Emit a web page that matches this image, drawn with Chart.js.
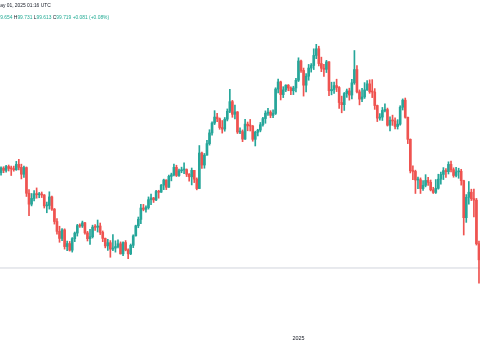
<!DOCTYPE html>
<html>
<head>
<meta charset="utf-8">
<script src="https://cdn.jsdelivr.net/npm/chart.js@4/dist/chart.umd.min.js"></script>
<style>
  html, body { margin: 0; padding: 0; background: #ffffff; width: 480px; height: 360px; overflow: hidden; }
  #wrap { position: relative; width: 480px; height: 360px; overflow: hidden; }
  canvas { position: absolute; left: 0; top: 0; }
  .hdr { position: absolute; white-space: nowrap; font-family: 'Liberation Sans', Arial, sans-serif; font-size: 4.9px; line-height: 6px; }
  #h1 { left: -3.9px; top: 3px; color: #131722; }
  #h2 { left: -6.3px; top: 14.5px; color: #131722; }
  #h2 .v { color: #22ab94; }
</style>
</head>
<body>
<div id="wrap">
  <canvas id="c" width="480" height="360"></canvas>
  <div class="hdr" id="h1"></div>
  <div class="hdr" id="h2"></div>
</div>
<script>
// ---- data (U.S. Dollar Index, daily) ----
const dates = [
'2024-07-18','2024-07-19','2024-07-22','2024-07-23','2024-07-24','2024-07-25','2024-07-26','2024-07-29','2024-07-30','2024-07-31',
'2024-08-01','2024-08-02','2024-08-05','2024-08-06','2024-08-07','2024-08-08','2024-08-09','2024-08-12','2024-08-13','2024-08-14',
'2024-08-15','2024-08-16','2024-08-19','2024-08-20','2024-08-21','2024-08-22','2024-08-23','2024-08-26','2024-08-27','2024-08-28',
'2024-08-29','2024-08-30','2024-09-02','2024-09-03','2024-09-04','2024-09-05','2024-09-06','2024-09-09','2024-09-10','2024-09-11',
'2024-09-12','2024-09-13','2024-09-16','2024-09-17','2024-09-18','2024-09-19','2024-09-20','2024-09-23','2024-09-24','2024-09-25',
'2024-09-26','2024-09-27','2024-09-30','2024-10-01','2024-10-02','2024-10-03','2024-10-04','2024-10-07','2024-10-08','2024-10-09',
'2024-10-10','2024-10-11','2024-10-14','2024-10-15','2024-10-16','2024-10-17','2024-10-18','2024-10-21','2024-10-22','2024-10-23',
'2024-10-24','2024-10-25','2024-10-28','2024-10-29','2024-10-30','2024-10-31','2024-11-01','2024-11-04','2024-11-05','2024-11-06',
'2024-11-07','2024-11-08','2024-11-11','2024-11-12','2024-11-13','2024-11-14','2024-11-15','2024-11-18','2024-11-19','2024-11-20',
'2024-11-21','2024-11-22','2024-11-25','2024-11-26','2024-11-27','2024-11-28','2024-11-29','2024-12-02','2024-12-03','2024-12-04',
'2024-12-05','2024-12-06','2024-12-09','2024-12-10','2024-12-11','2024-12-12','2024-12-13','2024-12-16','2024-12-17','2024-12-18',
'2024-12-19','2024-12-20','2024-12-23','2024-12-24','2024-12-26','2024-12-27','2024-12-30','2024-12-31','2025-01-02','2025-01-03',
'2025-01-06','2025-01-07','2025-01-08','2025-01-09','2025-01-10','2025-01-13','2025-01-14','2025-01-15','2025-01-16','2025-01-17',
'2025-01-20','2025-01-21','2025-01-22','2025-01-23','2025-01-24','2025-01-27','2025-01-28','2025-01-29','2025-01-30','2025-01-31',
'2025-02-03','2025-02-04','2025-02-05','2025-02-06','2025-02-07','2025-02-10','2025-02-11','2025-02-12','2025-02-13','2025-02-14',
'2025-02-17','2025-02-18','2025-02-19','2025-02-20','2025-02-21','2025-02-24','2025-02-25','2025-02-26','2025-02-27','2025-02-28',
'2025-03-03','2025-03-04','2025-03-05','2025-03-06','2025-03-07','2025-03-10','2025-03-11','2025-03-12','2025-03-13','2025-03-14',
'2025-03-17','2025-03-18','2025-03-19','2025-03-20','2025-03-21','2025-03-24','2025-03-25','2025-03-26','2025-03-27','2025-03-28',
'2025-03-31','2025-04-01','2025-04-02','2025-04-03','2025-04-04','2025-04-07','2025-04-08','2025-04-09','2025-04-10','2025-04-11'
];

const openValues = [
103.74,104.17,104.38,104.28,104.46,104.37,104.35,104.31,104.56,104.42,
104.10,104.41,103.21,102.70,102.97,103.19,103.14,103.14,103.13,102.62,
102.64,103.04,102.47,101.89,101.43,101.10,101.50,100.72,100.86,100.55,
101.09,101.35,101.70,101.68,101.83,101.36,101.09,101.18,101.63,101.62,
101.68,101.38,101.10,100.75,100.90,100.60,100.65,100.72,100.85,100.38,
100.91,100.56,100.38,100.78,101.22,101.69,101.99,102.52,102.46,102.54,
102.91,102.99,102.90,103.29,103.26,103.59,103.83,103.49,104.00,104.07,
104.42,104.04,104.26,104.30,104.32,104.10,103.98,104.28,103.87,103.43,
105.09,104.53,104.99,105.53,106.03,106.49,106.77,106.69,106.28,106.21,
106.67,107.04,107.49,106.90,107.01,106.07,106.09,105.74,106.44,106.36,
106.35,105.73,106.06,106.16,106.41,106.70,106.95,107.00,106.85,106.94,
108.08,108.41,107.82,108.04,108.26,108.13,108.00,108.13,108.49,109.39,
108.95,108.26,108.68,109.06,109.18,109.65,109.96,109.27,109.05,109.00,
109.35,108.00,108.06,108.24,108.15,107.45,107.35,107.87,107.99,107.80,
108.37,108.99,107.95,107.61,107.71,108.04,108.32,107.95,107.94,107.31,
106.72,106.77,107.08,107.12,106.39,106.62,106.59,106.33,106.44,107.23,
107.56,106.76,105.73,104.26,104.23,103.83,103.84,103.43,103.58,103.81,
103.72,103.37,103.25,103.44,103.87,104.09,104.27,104.22,104.56,104.31,
104.04,104.21,104.24,103.80,102.07,103.02,103.26,102.96,102.89,100.85
];

const highValues = [
104.22,104.44,104.45,104.52,104.53,104.48,104.48,104.70,104.80,104.57,
104.48,104.44,103.38,103.20,103.33,103.46,103.25,103.27,103.15,102.80,
103.28,103.08,102.50,102.03,101.67,101.56,101.55,100.98,100.96,101.14,
101.40,101.76,101.78,101.91,101.85,101.43,101.52,101.72,101.75,101.96,
101.82,101.45,101.12,101.06,101.00,101.28,100.99,101.03,100.94,100.94,
101.00,100.61,100.84,101.27,101.72,102.10,102.69,102.69,102.62,103.04,
103.17,103.02,103.35,103.35,103.62,103.87,103.84,104.06,104.15,104.57,
104.52,104.34,104.43,104.63,104.35,104.13,104.39,104.28,103.93,105.44,
105.14,105.07,105.68,106.18,106.55,107.07,106.95,106.73,106.61,106.75,
107.15,108.07,107.55,107.33,107.03,106.27,106.17,106.67,106.54,106.66,
106.38,106.11,106.20,106.52,106.76,107.06,107.18,107.07,107.11,108.14,
108.54,108.45,108.19,108.28,108.29,108.18,108.21,108.58,109.54,109.43,
109.06,108.80,109.23,109.27,109.96,110.17,110.08,109.57,109.23,109.42,
109.36,108.40,108.41,108.54,108.20,107.75,107.92,108.08,108.12,108.53,
109.88,109.18,108.04,108.11,108.38,108.48,108.51,108.52,108.10,107.33,
106.93,107.22,107.39,107.19,106.78,106.86,106.74,106.65,107.30,107.62,
107.66,106.77,105.75,104.49,104.29,103.97,103.93,103.80,104.08,103.96,
103.83,103.49,103.85,104.10,104.20,104.41,104.36,104.68,104.71,104.40,
104.42,104.38,104.33,103.82,103.15,103.76,103.40,103.41,102.97,100.98
];

const lowValues = [
103.65,104.05,104.17,104.20,104.25,104.04,104.24,104.28,104.30,103.88,
103.95,103.06,102.16,102.62,102.85,102.98,103.00,103.01,102.52,102.30,
102.47,102.41,101.77,101.30,100.92,101.00,100.60,100.53,100.51,100.46,
100.95,101.21,101.62,101.61,101.30,100.98,100.82,101.12,101.48,101.40,
101.28,100.95,100.66,100.54,100.22,100.53,100.46,100.66,100.37,100.30,
100.52,100.16,100.34,100.67,101.21,101.60,101.79,102.39,102.33,102.47,
102.68,102.78,102.87,102.98,103.25,103.38,103.38,103.48,103.79,104.02,
103.99,104.00,104.17,104.12,103.99,103.78,103.60,103.71,103.37,103.43,
104.37,104.38,104.99,105.46,105.93,106.42,106.56,106.20,106.02,106.11,
106.59,106.98,106.76,106.68,106.00,105.99,105.62,105.73,106.13,106.12,
105.64,105.42,105.89,106.08,106.35,106.48,106.85,106.74,106.74,106.89,
107.90,107.57,107.68,107.96,108.00,107.82,107.82,107.95,108.43,108.86,
107.75,107.94,108.49,108.87,108.99,109.50,109.16,108.89,108.67,108.85,
107.77,107.81,107.87,107.96,107.18,106.97,107.08,107.69,107.56,107.62,
108.30,107.90,107.34,107.49,107.64,108.02,107.88,107.68,107.13,106.56,
106.62,106.61,107.01,106.35,106.12,106.38,106.22,106.21,106.39,107.10,
106.72,105.53,104.16,103.84,103.20,103.43,103.20,103.34,103.51,103.58,
103.32,103.20,103.20,103.40,103.64,103.85,103.95,104.11,104.21,103.96,
103.97,103.91,103.59,101.26,101.85,102.70,102.87,102.11,100.79,99.01
];

const closeValues = [
104.17,104.40,104.28,104.46,104.37,104.35,104.31,104.56,104.42,104.10,
104.41,103.21,102.70,102.97,103.19,103.14,103.14,103.13,102.62,102.64,
103.04,102.47,101.89,101.43,101.10,101.50,100.72,100.86,100.55,101.09,
101.35,101.70,101.68,101.83,101.36,101.09,101.18,101.63,101.62,101.68,
101.38,101.10,100.75,100.90,100.60,100.65,100.72,100.85,100.38,100.91,
100.56,100.38,100.78,101.22,101.69,101.99,102.52,102.46,102.54,102.91,
102.99,102.90,103.29,103.26,103.59,103.83,103.49,104.00,104.07,104.42,
104.04,104.26,104.30,104.32,104.10,103.98,104.28,103.87,103.43,105.09,
104.53,104.99,105.53,106.03,106.49,106.77,106.69,106.28,106.21,106.67,
107.04,107.49,106.90,107.01,106.07,106.09,105.74,106.44,106.36,106.35,
105.73,106.06,106.16,106.41,106.70,106.95,107.00,106.85,106.94,108.08,
108.41,107.82,108.04,108.26,108.13,108.00,108.13,108.49,109.39,108.95,
108.26,108.68,109.06,109.18,109.65,109.96,109.27,109.05,109.00,109.35,
108.00,108.06,108.24,108.15,107.45,107.35,107.87,107.99,107.80,108.37,
108.99,107.95,107.61,107.71,108.04,108.32,107.95,107.94,107.31,106.72,
106.77,107.08,107.12,106.39,106.62,106.59,106.33,106.44,107.23,107.56,
106.76,105.73,104.26,104.23,103.83,103.84,103.43,103.58,103.81,103.72,
103.37,103.25,103.44,103.87,104.09,104.27,104.22,104.56,104.31,104.04,
104.21,104.24,103.80,102.07,103.02,103.26,102.96,102.89,100.85,100.10
];

const lastPrice = 99.719;                 // current price line
const yearTickLabels = ['2025'];          // time-axis label
const yearTickDates = ['2025-01-02'];     // bar that carries the label
const headerTime = 'May 01, 2025 01:16 UTC';
const headerLabels = ['O', 'H', 'L', 'C'];
const headerValues = ['99.654', '99.731', '99.613', '99.719'];
const headerChange = '+0.081 (+0.08%)';

// ---- styles ----
const UP = '#26a69a', DOWN = '#ef5350';

// header text
document.getElementById('h1').textContent = headerTime;
(function () {
  const h2 = document.getElementById('h2');
  let html = '';
  headerLabels.forEach((l, i) => { html += l + '<span class="v">' + headerValues[i] + '</span> '; });
  html += '<span class="v">' + headerChange + '</span>';
  h2.innerHTML = html;
})();

const colors = closeValues.map((c, i) => c >= openValues[i] ? UP : DOWN);
const wickData = dates.map((d, i) => ({ x: i, y: [lowValues[i], highValues[i]] }));
const bodyData = dates.map((d, i) => ({ x: i, y: [openValues[i], closeValues[i]] }));

const X_MIN = 0.59, X_MAX = 189.4;

const yearPlugin = {
  id: 'yearLabel',
  afterDraw(chart) {
    const ctx = chart.ctx, xs = chart.scales.x;
    ctx.save();
    ctx.fillStyle = '#131722';
    ctx.font = '5.4px "Liberation Sans", Arial, sans-serif';
    ctx.textAlign = 'center';
    ctx.textBaseline = 'middle';
    yearTickLabels.forEach((lab, k) => {
      const idx = dates.indexOf(yearTickDates[k]);
      ctx.fillText(lab, xs.getPixelForValue(idx), 339);
    });
    ctx.restore();
  }
};

new Chart(document.getElementById('c'), {
  type: 'bar',
  data: {
    datasets: [
      {
        type: 'line',
        data: [{ x: X_MIN - 5, y: lastPrice }, { x: X_MAX + 5, y: lastPrice }],
        borderColor: '#d1d4dc',
        borderWidth: 1,
        pointRadius: 0,
        order: 3
      },
      {
        data: wickData,
        backgroundColor: colors,
        barThickness: 1,
        grouped: false,
        borderWidth: 0,
        order: 2
      },
      {
        data: bodyData,
        backgroundColor: colors,
        barThickness: 2,
        minBarLength: 1,
        grouped: false,
        borderWidth: 0,
        order: 1
      }
    ]
  },
  options: {
    responsive: false,
    animation: false,
    devicePixelRatio: 1,
    layout: { padding: 0 },
    plugins: { legend: { display: false }, tooltip: { enabled: false } },
    scales: {
      x: { type: 'linear', display: false, min: X_MIN, max: X_MAX, offset: false },
      y: { display: false, min: 95.42, max: 112.24 }
    }
  },
  plugins: [yearPlugin]
});
</script>
</body>
</html>
